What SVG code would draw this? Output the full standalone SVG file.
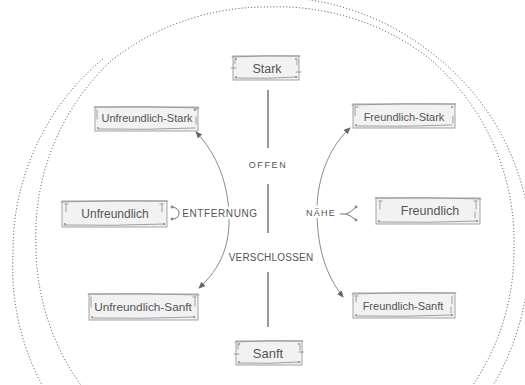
<svg xmlns="http://www.w3.org/2000/svg" width="525" height="385" viewBox="0 0 525 385">
  <defs>
    <marker id="arrow" markerWidth="7" markerHeight="6" refX="6" refY="3" orient="auto-start-reverse" markerUnits="userSpaceOnUse">
      <path d="M0,0 L7,3 L0,6 Z" fill="#666"/>
    </marker>
    <style>
      .sign { fill: #f2f2f2; stroke: #9a9a9a; stroke-width: 0.9; }
      .trim { fill: none; stroke: #8c8c8c; stroke-width: 0.8; stroke-linecap: round; }
      .nail { fill: #888; }
      .name { font-family: "Liberation Sans", Arial, sans-serif; fill: #555; text-anchor: middle; }
      .axis { stroke: #555; stroke-width: 1.2; fill: none; }
      .curve { stroke: #8a8a8a; stroke-width: 1; fill: none; }
      .tag { font-family: "Liberation Sans", Arial, sans-serif; fill: #555; text-anchor: middle;
             stroke: #fff; stroke-width: 5; paint-order: stroke; stroke-linejoin: round; }
      .ring { fill: none; stroke: #444; stroke-width: 1; stroke-dasharray: 1 2.2; }
      .icon { fill: none; stroke: #666; stroke-width: 0.9; }
    </style>
  </defs>

  <rect width="525" height="385" fill="#fff"/>

  <!-- hand-drawn dotted rings -->
  <g id="rings">
    <path class="ring" d="M 86,392 A 240 240 0 0 1 36,247 A 240 240 0 0 1 112,60 A 250 250 0 0 1 267,7 A 250 250 0 0 1 425,55 A 240 240 0 0 1 514,248 A 240 240 0 0 1 468,392"/>
    <path class="ring" d="M 280,-3 A 260 260 0 0 1 425,48 A 255 255 0 0 1 525,197 A 260 260 0 0 1 525,300 A 260 260 0 0 1 489,392"/>
    <path class="ring" d="M 46,392 A 250 250 0 0 1 13,253 A 250 250 0 0 1 104,58"/>
  </g>

  <!-- connectors -->
  <g id="connectors">
    <line class="axis" x1="268" y1="90" x2="268" y2="148"/>
    <line class="axis" x1="268" y1="184" x2="268" y2="233"/>
    <line class="axis" x1="268" y1="272" x2="268" y2="327"/>
    <path class="curve" marker-start="url(#arrow)" marker-end="url(#arrow)" d="M 196,132 C 218,155 228,185 229,215 C 230,245 221,268 199,288"/>
    <path class="curve" marker-start="url(#arrow)" marker-end="url(#arrow)" d="M 350,128 C 326,150 316,185 317,215 C 318,250 326,275 343,297"/>
    <!-- merge / fork glyphs -->
    <path class="icon" d="M 172,207 Q 179,208 179,213 Q 179,219 172,219"/>
    <circle class="nail" cx="172" cy="207" r="1.4" fill="#666"/>
    <circle class="nail" cx="172" cy="219" r="1.4" fill="#666"/>
    <path class="icon" d="M 340,214 L 346,214 Q 350,213 356,207 M 346,214 Q 350,215 356,220"/>
    <circle class="nail" cx="356" cy="207" r="1.4" fill="#666"/>
    <circle class="nail" cx="356" cy="220" r="1.4" fill="#666"/>
  </g>

  <!-- axis labels -->
  <g id="labels">
    <text class="tag" x="268" y="168" font-size="9" letter-spacing="1.6">OFFEN</text>
    <text class="tag" x="220" y="217" font-size="10" letter-spacing="0.6">ENTFERNUNG</text>
    <text class="tag" x="321" y="216" font-size="9" letter-spacing="1.3">NÄHE</text>
    <text class="tag" x="271" y="261" font-size="10" letter-spacing="0.2">VERSCHLOSSEN</text>
  </g>

  <!-- signs -->
  <g id="stark" transform="translate(233,56)">
    <rect class="sign" width="66" height="24"/>
    <path class="trim" d="M-1,1 Q33,-1 67,0 M2,3 v5 M64,4 v5 M-2,12 h5 M63,16 h5 M2,22 Q33,23 64,21"/>
    <circle class="nail" cx="3" cy="3" r="0.9"/><circle class="nail" cx="63" cy="3" r="0.9"/>
    <circle class="nail" cx="3" cy="21" r="0.9"/><circle class="nail" cx="63" cy="21" r="0.9"/>
    <text class="name" x="34" y="17" font-size="12.5">Stark</text>
  </g>

  <g id="unfreundlich-stark" transform="translate(95,107)">
    <rect class="sign" width="103" height="24"/>
    <path class="trim" d="M-1,0 Q50,-1 104,1 M2,3 v9 M101,10 v7 M99,2 h3 M3,22 Q52,23 100,21"/>
    <circle class="nail" cx="3" cy="21" r="0.9"/><circle class="nail" cx="100" cy="3" r="0.9"/>
    <text class="name" x="52" y="15" font-size="11">Unfreundlich-Stark</text>
  </g>

  <g id="freundlich-stark" transform="translate(353,104)">
    <rect class="sign" width="102" height="24"/>
    <path class="trim" d="M-1,1 Q50,-1 103,0 M2,3 v9 M100,12 v7 M2,3 h3 M3,22 Q50,23 99,21"/>
    <circle class="nail" cx="3" cy="21" r="0.9"/><circle class="nail" cx="99" cy="3" r="0.9"/>
    <text class="name" x="51" y="17" font-size="11">Freundlich-Stark</text>
  </g>

  <g id="unfreundlich" transform="translate(62,201)">
    <rect class="sign" width="105" height="26"/>
    <path class="trim" d="M-1,1 Q52,-1 106,0 M4,3 v8 M3,3 h3 M100,3 v8 M101,3 h-3 M2,24 Q52,25 103,23"/>
    <circle class="nail" cx="3" cy="23" r="0.9"/><circle class="nail" cx="102" cy="23" r="0.9"/>
    <text class="name" x="53" y="17" font-size="12">Unfreundlich</text>
  </g>

  <g id="freundlich" transform="translate(376,198)">
    <rect class="sign" width="104" height="26"/>
    <path class="trim" d="M-1,0 Q52,-1 105,1 M4,3 v8 M3,3 h3 M100,3 v8 M101,3 h-3 M99,14 v6 M2,24 Q52,25 102,23"/>
    <circle class="nail" cx="3" cy="23" r="0.9"/><circle class="nail" cx="101" cy="23" r="0.9"/>
    <text class="name" x="54" y="17" font-size="12.5">Freundlich</text>
  </g>

  <g id="unfreundlich-sanft" transform="translate(89,294)">
    <rect class="sign" width="109" height="26"/>
    <path class="trim" d="M-1,0 Q55,-1 110,1 M2,3 v10 M106,3 v9 M104,3 h3 M3,24 Q55,25 106,23"/>
    <circle class="nail" cx="3" cy="23" r="0.9"/><circle class="nail" cx="105" cy="23" r="0.9"/>
    <text class="name" x="54" y="17" font-size="11.8">Unfreundlich-Sanft</text>
  </g>

  <g id="freundlich-sanft" transform="translate(353,293)">
    <rect class="sign" width="102" height="25"/>
    <path class="trim" d="M-1,1 Q50,-1 103,0 M3,3 v6 M2,3 h3 M99,3 v8 M98,14 v6 M3,23 Q50,24 99,22"/>
    <circle class="nail" cx="3" cy="22" r="0.9"/><circle class="nail" cx="99" cy="22" r="0.9"/>
    <text class="name" x="50" y="17" font-size="11">Freundlich-Sanft</text>
  </g>

  <g id="sanft" transform="translate(236,341)">
    <rect class="sign" width="66" height="24"/>
    <path class="trim" d="M-1,1 Q33,-1 67,0 M2,3 v5 M64,4 v5 M-2,13 h5 M63,11 h5 M2,22 Q33,23 64,21"/>
    <circle class="nail" cx="3" cy="3" r="0.9"/><circle class="nail" cx="63" cy="3" r="0.9"/>
    <circle class="nail" cx="3" cy="21" r="0.9"/><circle class="nail" cx="63" cy="21" r="0.9"/>
    <text class="name" x="32" y="17" font-size="13">Sanft</text>
  </g>
</svg>
